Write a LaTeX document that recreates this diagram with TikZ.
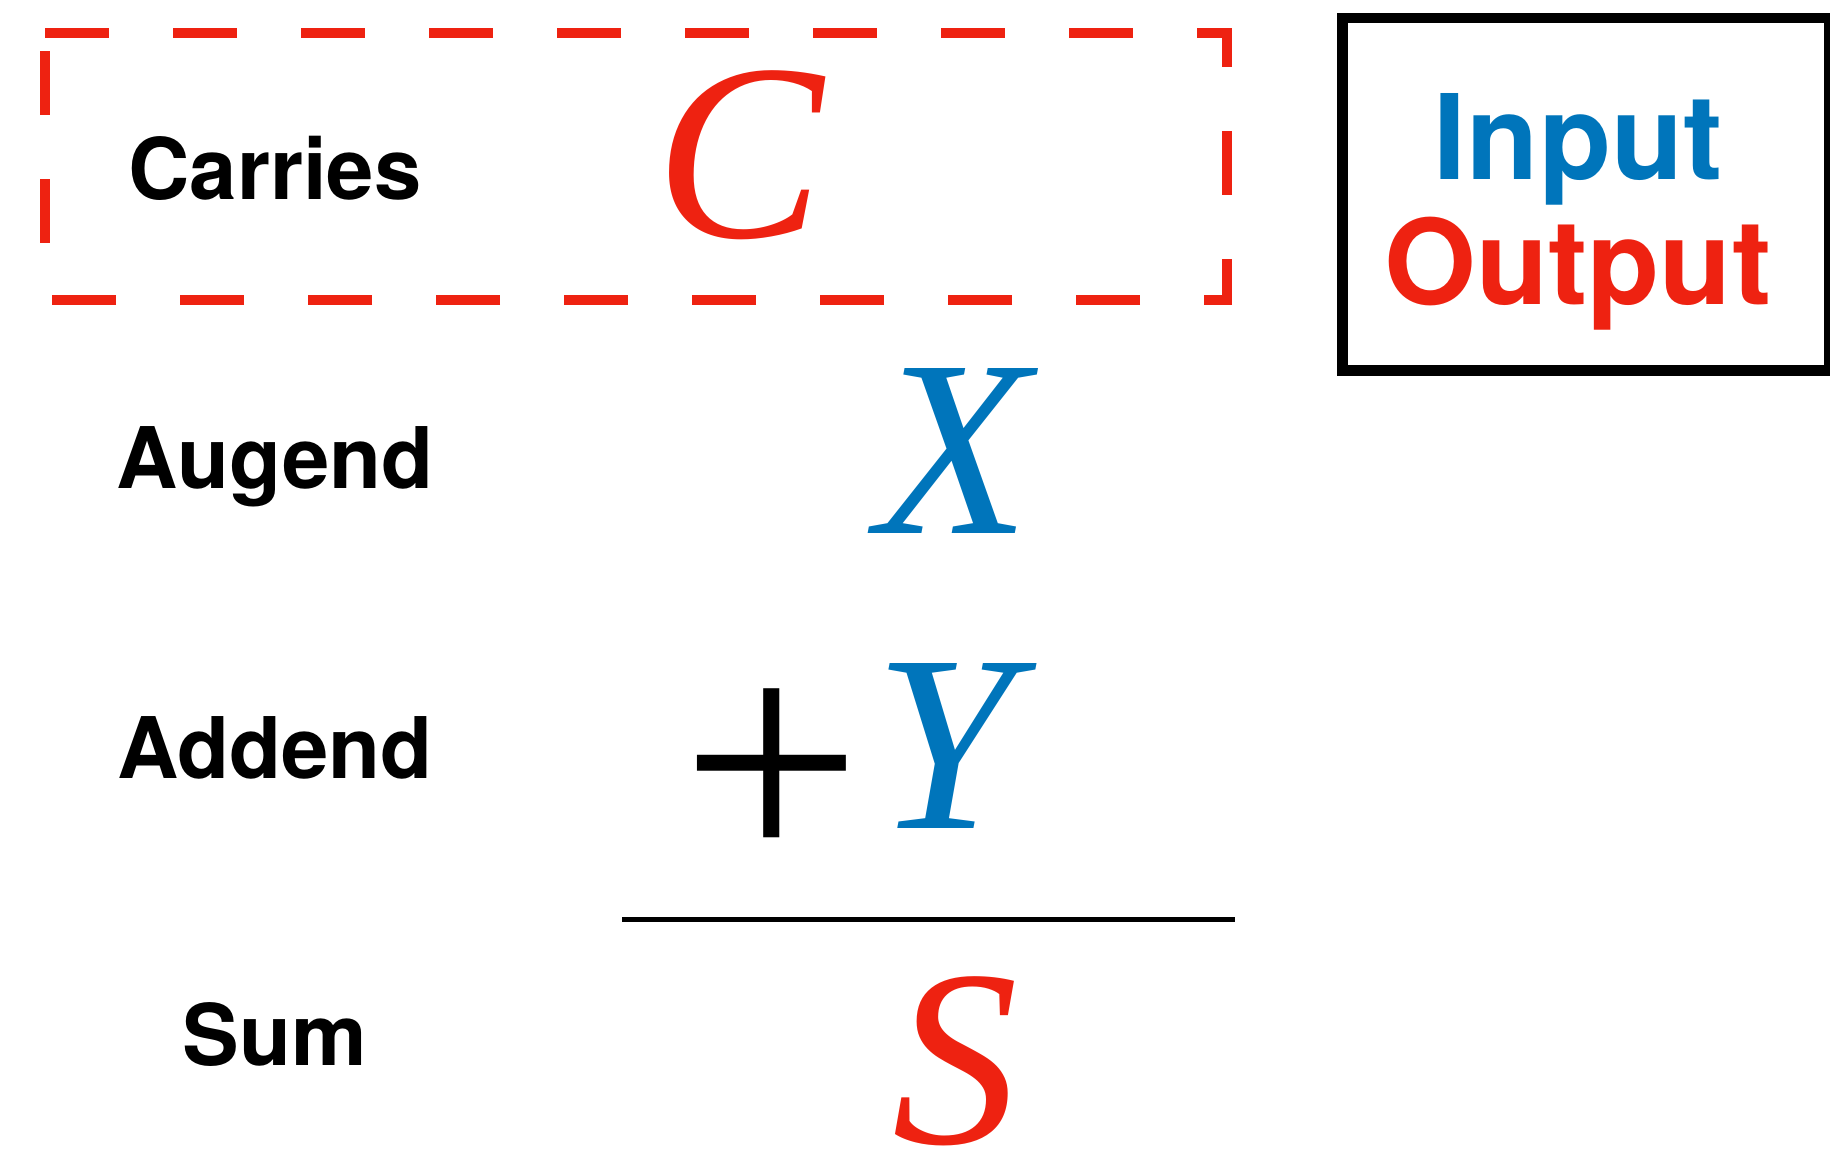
\documentclass[tikz,border=0pt]{standalone}
\usepackage{fontspec}
\setmainfont{TeX Gyre Heros}
\newfontfamily\timesfont{Liberation Serif}
\usepackage{tikz}
\usetikzlibrary{positioning}
\usepackage{xcolor}
\definecolor{inblue}{RGB}{0,117,187}
\definecolor{outred}{RGB}{238,34,17}

\begin{document}
\begin{tikzpicture}[x=0.5pt, y=-0.5pt,
    rowlabel/.style={font=\fontsize{42.5}{51}\selectfont\bfseries, anchor=base, inner sep=0pt},
    varsym/.style={font=\fontsize{126}{130}\selectfont\timesfont\itshape, anchor=base, inner sep=0pt},
    keytext/.style={font=\fontsize{59}{62.5}\selectfont\bfseries, anchor=base, inner sep=0pt}]
        \useasboundingbox (0,0) rectangle (1830,1148);
        % Carries frame (dashed)
        \coordinate (ctl) at (45.2,33.3);
        \coordinate (ctr) at (1227.3,33.3);
        \coordinate (cbr) at (1227.3,300);
        \coordinate (cbl) at (45.2,300);
        \draw[outred, line width=5pt, dash pattern=on 32pt off 32pt]
          (ctl) -- (ctr) -- (cbr) -- (cbl) -- cycle;
        % Row labels
        \node[rowlabel] (carries) at (275,199)    {Carries};
        \node[rowlabel] (augend)  at (275,488)    {Augend};
        \node[rowlabel] (addend)  at (275,778.5)  {Addend};
        \node[rowlabel] (sum)     at (275,1065.6) {Sum};
        % Operands and result
        \node[varsym, outred] (cvar) at (740,237)   {C};
        \node[varsym, inblue] (xvar) at (953,533.3) {X};
        \node[varsym, inblue] (yvar) at (945,828.7) {Y};
        \node[varsym, outred] (svar) at (955,1143)  {S};
        \node[font=\fontsize{160}{160}\selectfont\timesfont, anchor=center, inner sep=0pt] (plus) at (772,779) {+};
        % Sum rule
        \coordinate (rulel) at (622,919.5);
        \coordinate (ruler) at (1235,919.5);
        \draw[line width=2.65pt] (rulel) -- (ruler);
        % Key box
        \coordinate (keytl) at (1342.5,18);
        \coordinate (keybr) at (1829,370.7);
        \draw[line width=5.25pt] (keytl) rectangle (keybr);
        \node[keytext, inblue] (inkey)  at (1578,179)   {Input};
        \node[keytext, outred] (outkey) at (1578,304.3) {Output};
      \end{tikzpicture}
\end{document}
